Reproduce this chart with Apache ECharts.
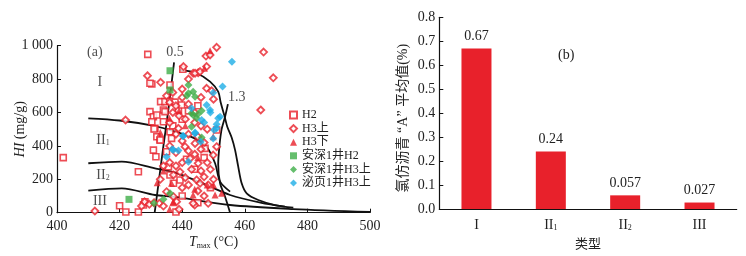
<!DOCTYPE html>
<html><head><meta charset="utf-8">
<script src="https://cdn.jsdelivr.net/npm/echarts@6/dist/echarts.min.js"></script>
<style>html,body{margin:0;padding:0;background:#fff}#c{width:746px;height:256px}</style>
</head><body><div id="c"></div>
<script>
// ---------- Panel (a) data ----------
const hiTickLabels = {0:'0',200:'200',400:'400',600:'600',800:'800',1000:'1 000'};
const h2 = [[429,948],[430.3,771],[440.2,859],[436.1,765],[429.7,775],[433.1,665],[434.5,665],[436,668],[437.7,662],[434,615],[429.7,605],[430.8,575],[431.9,585],[434.5,605],[438.8,615],[439.8,645],[431.3,505],[434,545],[430.3,545],[431,501],[431.9,455],[432.9,435],[436.1,485],[436.6,445],[430.8,375],[431.6,335],[435,365],[426,245],[441.4,320],[435.6,275],[436.1,226],[439.3,196],[437.2,176],[451,495],[447.3,385],[402,330],[420,42],[422,4],[426,4],[438,4],[428.1,66],[427.6,46],[433,435],[437,520],[440,560],[442,610],[445,640],[447,330],[444,260],[440,100],[445,60],[449,150]];
const h3up = [[428.9,820],[433.1,781],[421.9,555],[412.1,10],[428,65],[429.5,50],[431,60],[427,40],[432.7,56],[444,46],[451,990],[447.6,938],[445.1,838],[443.5,835],[466,962],[469.1,808],[465.1,615],[440.4,875],[444.1,835],[445.7,845],[447.8,745],[449.4,730],[448.9,945],[447.8,875],[438.8,505],[440.9,395],[444.1,415],[442.5,325],[449.9,345],[445.1,296],[439.3,245],[442,166],[444.6,196],[445.7,176],[448.3,166],[437.2,226],[435,126],[437.2,96],[438.2,66],[443.5,56],[448.3,56],[436,660],[438,640],[440,690],[442,650],[437,600],[439,580],[441,560],[444,540],[446,520],[448,500],[436,540],[438,470],[442,470],[445,455],[447,420],[440,430],[436,400],[438,360],[442,370],[444,350],[446,380],[448,300],[440,300],[443,260],[446,250],[449,260],[438,280],[441,210],[447,215],[450,200],[434,280],[436,300],[445,130],[447,100],[440,150],[433,200],[451,395],[444,600],[435,700],[437,720],[440,740],[442,800],[446,690],[450,680],[439,20],[434,40]];
const h3down = [[448.9,970],[447.1,865],[435.9,565],[437.2,66],[449.9,455],[452.6,116],[443.5,106],[448,166],[450,166],[436.6,176],[450.5,106],[437,60],[434,250],[441,520],[433,480],[439,610],[444,140],[436,20],[432,180],[445,330]];
const asH2 = [[436.1,850],[436.1,735],[423,80]];
const asH3up = [[442,765],[442,715],[443.5,725],[444.1,695],[441.5,700],[443,595],[443.5,585],[446.2,610],[444.6,565],[443,515],[446.2,450],[436.1,116],[434,80],[431,56],[445,590]];
const myH3up = [[455.9,904],[452.9,755],[449.9,719],[452.1,575],[451.5,565],[451,505],[450.2,495],[448.9,615],[447.8,645],[446.2,555],[443,625],[444.1,475],[440.4,459],[445.9,425],[449.9,445],[437.2,375],[438.8,372],[435,335],[442,305],[436.8,380],[440.2,460],[444.1,480],[447,540],[449,600],[451,530]];
// boundary curves
const curveI_II1 = [[410,565],[420,552],[431,520],[437.7,486],[444,445],[447.8,395],[450.5,296],[452.1,186],[455.3,126]];
const curveII1_II2 = [[410,296],[420.7,306],[431.3,266],[437.7,240],[446,180],[455.3,106],[465,60],[472.8,36]];
const curveII2_III = [[410,132],[420.7,146],[431.3,106],[437.7,95],[455.3,46],[475.5,22],[500,5]];
const curveRo05 = [[431.2,0],[432.6,200],[434,400],[435.6,620],[437.4,900]];
const curveRo13 = [[454.6,650],[453.7,575],[452.6,500],[451.9,400],[451.5,290],[452.1,176],[453.7,96],[455.3,0]];
const curveBig = [[439.3,855],[444.6,835],[448.9,785],[451.5,725],[452.3,660],[453.5,580],[454.4,515],[455.8,450],[456.9,375],[457.9,276],[459,176],[460.6,116],[464.3,76],[469.6,46],[475.5,30]];
// annotations (data coords)
const annotations = [
  {value:[412.1,960], text:'(a)'},
  {value:[437.7,962], text:'0.5'},
  {value:[457.4,690], text:'1.3'},
  {value:[413.7,782], text:'I'},
  {value:[414.7,435], text:'{m|II}{s|1}'},
  {value:[414.7,225], text:'{m|II}{s|2}'},
  {value:[413.7,70], text:'III'}
];
// ---------- Panel (b) data ----------
const typeCats = ['{m|I}','{m|II}{s|1}','{m|II}{s|2}','{m|III}'];
const avgA = [0.67, 0.24, 0.057, 0.027];
const avgALabels = ['0.67','0.24','0.057','0.027'];

const SERIF = "'Liberation Serif','Times New Roman',serif";
const SERIF_CJK = "'Liberation Serif','Noto Sans CJK SC',serif";
const RED = '#e8212b', GREEN = '#3fae49', CYAN = '#1eaee6';
const richSub = {m:{fontFamily:SERIF,fontSize:14,color:'#222'}, s:{fontFamily:SERIF,fontSize:8,color:'#222',padding:[6,0,0,0]}};

function curve(d){return {type:'line',xAxisIndex:0,yAxisIndex:0,data:d,showSymbol:false,symbol:'none',smooth:0.3,lineStyle:{color:'#111',width:1.8},z:3,silent:true};}

const chart = echarts.init(document.getElementById('c'),null,{renderer:'canvas'});
chart.setOption({
  animation:false,
  backgroundColor:'#fff',
  grid:[
    {left:57,right:376,top:45.7,bottom:43.3},
    {left:439.3,right:9.3,top:17.3,bottom:41}
  ],
  legend:{
    orient:'vertical',left:289,top:108.2,padding:0,itemWidth:7,itemHeight:7,itemGap:0,
    textStyle:{fontFamily:SERIF_CJK,fontSize:12,color:'#222',lineHeight:13.6},
    data:['H2','H3上','H3下','安深1井H2','安深1井H3上','泌页1井H3上']
  },
  xAxis:[
    {gridIndex:0,type:'value',min:400,max:500,interval:20,
     axisLine:{lineStyle:{color:'#111',width:1.2}},axisTick:{inside:true,length:4,lineStyle:{color:'#111'}},
     splitLine:{show:false},axisLabel:{fontFamily:SERIF,fontSize:14,color:'#222',margin:7},
     name:'{i|T}{s|max} {n|(°C)}',nameLocation:'middle',nameGap:23,nameMoveOverlap:false,
     nameTextStyle:{rich:{i:{fontFamily:SERIF,fontStyle:'italic',fontSize:14,color:'#222'},s:{fontFamily:SERIF,fontSize:8,color:'#222',padding:[6,0,0,0]},n:{fontFamily:SERIF,fontSize:14,color:'#222'}}}},
    {gridIndex:1,type:'category',data:typeCats,
     axisLine:{lineStyle:{color:'#111',width:1.2}},axisTick:{inside:true,length:4,lineStyle:{color:'#111'}},
     axisLabel:{margin:9,formatter:v=>v,rich:richSub},
     name:'类型',nameLocation:'middle',nameGap:29,nameMoveOverlap:false,nameTextStyle:{fontFamily:SERIF_CJK,fontSize:13,color:'#222'}}
  ],
  yAxis:[
    {gridIndex:0,type:'value',min:0,max:1000,interval:200,
     axisLine:{show:true,lineStyle:{color:'#111',width:1.2}},axisTick:{show:true,inside:true,length:4,lineStyle:{color:'#111'}},
     splitLine:{show:false},axisLabel:{fontFamily:SERIF,fontSize:14,color:'#222',margin:4,formatter:v=>hiTickLabels[v]},
     name:'{i|HI} {n|(mg/g)}',nameLocation:'middle',nameGap:30,nameMoveOverlap:false,
     nameTextStyle:{rich:{i:{fontFamily:SERIF,fontStyle:'italic',fontSize:14,color:'#222'},n:{fontFamily:SERIF,fontSize:14,color:'#222'}}}},
    {gridIndex:1,type:'value',min:0,max:0.8,interval:0.1,
     axisLine:{show:true,lineStyle:{color:'#111',width:1.2}},axisTick:{show:true,inside:true,length:4,lineStyle:{color:'#111'}},
     splitLine:{show:false},axisLabel:{fontFamily:SERIF,fontSize:14,color:'#222',margin:4,formatter:v=>v.toFixed(1)},
     name:'氯仿沥青 “A” 平均值(%)',nameLocation:'middle',nameGap:29,nameMoveOverlap:false,
     nameTextStyle:{fontFamily:SERIF_CJK,fontSize:14,color:'#222',padding:[0,10,0,0]}}
  ],
  graphic:[{type:'text',left:558,top:48,style:{text:'(b)',font:"14px 'Liberation Serif'",fill:'#222'}}],
  series:[
    curve(curveI_II1),curve(curveII1_II2),curve(curveII2_III),curve(curveRo05),curve(curveRo13),curve(curveBig),
    {name:'H2',type:'scatter',xAxisIndex:0,yAxisIndex:0,data:h2,symbol:'rect',symbolSize:6,
     itemStyle:{color:'#fff',borderColor:RED,borderWidth:1.6},z:4},
    {name:'H3上',type:'scatter',xAxisIndex:0,yAxisIndex:0,data:h3up,symbol:'diamond',symbolSize:7,
     itemStyle:{color:'#fff',borderColor:RED,borderWidth:1.8},z:4},
    {name:'H3下',type:'scatter',xAxisIndex:0,yAxisIndex:0,data:h3down,symbol:'triangle',symbolSize:7,
     itemStyle:{color:RED},z:4},
    {name:'安深1井H2',type:'scatter',xAxisIndex:0,yAxisIndex:0,data:asH2,symbol:'rect',symbolSize:7,
     itemStyle:{color:GREEN},z:5},
    {name:'安深1井H3上',type:'scatter',xAxisIndex:0,yAxisIndex:0,data:asH3up,symbol:'diamond',symbolSize:8,
     itemStyle:{color:GREEN},z:5},
    {name:'泌页1井H3上',type:'scatter',xAxisIndex:0,yAxisIndex:0,data:myH3up,symbol:'diamond',symbolSize:8,
     itemStyle:{color:CYAN},z:5},
    {type:'scatter',xAxisIndex:0,yAxisIndex:0,symbolSize:0,silent:true,z:6,
     data:annotations.map(a=>({value:a.value,label:{formatter:a.text}})),
     label:{show:true,position:'inside',fontFamily:SERIF,fontSize:14,color:'#222',rich:richSub}},
    {type:'bar',xAxisIndex:1,yAxisIndex:1,data:avgA,barWidth:30,
     itemStyle:{color:RED},
     label:{show:true,position:'top',distance:5,fontFamily:SERIF,fontSize:14,color:'#222',
       formatter:p=>avgALabels[p.dataIndex]}}
  ]
});
</script></body></html>
